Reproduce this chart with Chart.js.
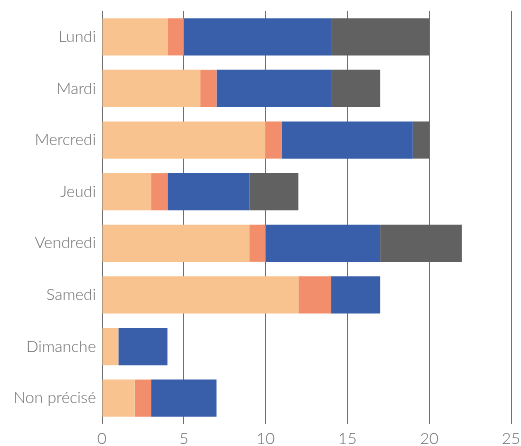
<!DOCTYPE html>
<html>
<head>
<meta charset="utf-8">
<script src="https://cdn.jsdelivr.net/npm/chart.js@4"></script>
<style>
  body { margin: 0; background: #fff; }
  #wrap { width: 521px; height: 446px; }
</style>
</head>
<body>
<div id="wrap"><canvas id="myChart"></canvas></div>
<script>
const jours = ['Lundi', 'Mardi', 'Mercredi', 'Jeudi', 'Vendredi', 'Samedi', 'Dimanche', 'Non précisé']
const serie1 = [4, 6, 10, 3, 9, 12, 1, 2]
const serie2 = [1, 1, 1, 1, 1, 2, 0, 1]
const serie3 = [9, 7, 8, 5, 7, 3, 3, 4]
const serie4 = [6, 3, 1, 3, 5, 0, 0, 0]
const xTicks = [0, 5, 10, 15, 20, 25]

const graph = document.getElementById('myChart')

const datasets = [
    { label: 'Série 1', data: serie1, backgroundColor: '#F8C38F' },
    { label: 'Série 2', data: serie2, backgroundColor: '#F28E6B' },
    { label: 'Série 3', data: serie3, backgroundColor: '#3A5FAA' },
    { label: 'Série 4', data: serie4, backgroundColor: '#616161' }
]

const font = { family: 'Lato, "Open Sans", sans-serif', size: 16, weight: 300 }

new Chart(graph, {
    type: 'bar',
    data: { labels: jours, datasets },
    options: {
        indexAxis: 'y',
        responsive: true,
        maintainAspectRatio: false,
        animation: false,
        layout: { padding: { top: 11, right: 10, left: 0, bottom: 0 } },
        datasets: { bar: { categoryPercentage: 1, barPercentage: 0.72 } },
        plugins: { legend: { display: false }, tooltip: { enabled: false } },
        scales: {
            x: {
                stacked: true,
                min: 0,
                max: 25,
                afterBuildTicks: (s) => { s.ticks = xTicks.map((v) => ({ value: v })) },
                grid: { color: '#6f6f6f', lineWidth: 1, drawTicks: false },
                border: { display: false },
                ticks: { color: '#6a6a6a', font, padding: 5 },
                afterFit: (s) => { s.height = 22; s.paddingLeft = 0; s.paddingRight = 0 }
            },
            y: {
                stacked: true,
                grid: { display: false, drawTicks: false },
                border: { display: false },
                ticks: { color: '#6a6a6a', font: { ...font, size: 16 }, padding: 6 },
                afterFit: (s) => { s.width = 102; s.paddingTop = 0; s.paddingBottom = 0 }
            }
        }
    }
})
</script>
</body>
</html>
